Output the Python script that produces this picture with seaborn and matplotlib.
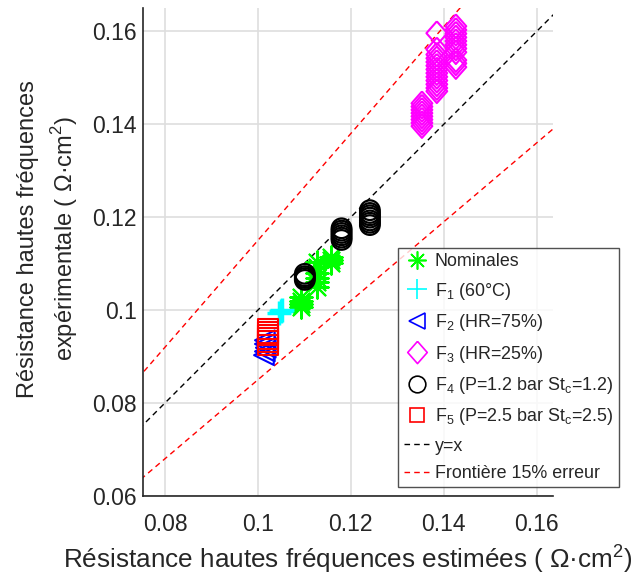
import numpy as np
import matplotlib
matplotlib.use("Agg")
import matplotlib.pyplot as plt
import seaborn as sns
from matplotlib.lines import Line2D

sns.set_style("white")
plt.rcParams['font.family'] = ['Liberation Sans', 'DejaVu Sans']
plt.rcParams['mathtext.fontset'] = 'custom'
plt.rcParams['mathtext.rm'] = 'Liberation Sans'

nom_x = [0.1092, 0.1092, 0.1092, 0.1092, 0.1127, 0.1127, 0.1127, 0.1127, 0.1127, 0.1127,
         0.1157, 0.1157, 0.1157]
nom_y = [0.1006, 0.1013, 0.1020, 0.1028, 0.1050, 0.1060, 0.1070, 0.1080, 0.1092, 0.1103,
         0.1101, 0.1108, 0.1114]
f1_x = [0.1046, 0.1049, 0.1052]
f1_y = [0.0993, 0.0997, 0.1000]
f2_x = [0.1013, 0.1015, 0.1017, 0.1015, 0.1015]
f2_y = [0.0903, 0.0911, 0.0919, 0.0927, 0.0935]
f3_x = [0.1353] * 8 + [0.1385] * 13 + [0.1426] * 11
f3_y = [0.1396, 0.1403, 0.1410, 0.1417, 0.1424, 0.1431, 0.1438, 0.1445,
        0.1471, 0.1478, 0.1486, 0.1494, 0.1502, 0.1510, 0.1518, 0.1526, 0.1534, 0.1542, 0.1550, 0.1561, 0.1596,
        0.1523, 0.1531, 0.1538, 0.1555, 0.1563, 0.1571, 0.1579, 0.1587, 0.1595, 0.1603, 0.1611]
f4_x = [0.1101] * 4 + [0.1180] * 6 + [0.1241] * 7
f4_y = [0.1065, 0.1069, 0.1073, 0.1078,
        0.1151, 0.1156, 0.1161, 0.1166, 0.1171, 0.1176,
        0.1183, 0.1188, 0.1193, 0.1199, 0.1204, 0.1209, 0.1215]
f5_x = [0.1022] * 6
f5_y = [0.0925, 0.0932, 0.0939, 0.0946, 0.0952, 0.0959]

labels = ['Nominales', 'F$_1$ (60°C)', 'F$_2$ (HR=75%)', 'F$_3$ (HR=25%)',
          'F$_4$ (P=1.2 bar St$_\\mathrm{c}$=1.2)', 'F$_5$ (P=2.5 bar St$_\\mathrm{c}$=2.5)',
          'y=x', 'Frontière 15% erreur']
ticks = [0.08, 0.1, 0.12, 0.14, 0.16]
yticks = [0.06, 0.08, 0.1, 0.12, 0.14, 0.16]

fig = plt.figure(figsize=(6.36, 5.78), dpi=100)
ax = fig.add_axes([0.225, 0.142, 0.6445, 0.844])

diamond = [(0, 1), (0.88, 0), (0, -1), (-0.88, 0), (0, 1)]

line_x = np.array([0.07, 0.17])
sns.lineplot(x=line_x, y=line_x, ax=ax, color='k', lw=1, linestyle=(0, (4, 3)), zorder=1)
sns.lineplot(x=line_x, y=1.15 * line_x, ax=ax, color='r', lw=1, linestyle=(0, (4, 3)), zorder=1)
sns.lineplot(x=line_x, y=0.85 * line_x, ax=ax, color='r', lw=1, linestyle=(0, (4, 3)), zorder=1)

sns.scatterplot(x=nom_x, y=nom_y, ax=ax, marker=(8, 2, 0), s=260, color='#00ff00', linewidth=1.5, zorder=3)
sns.scatterplot(x=f1_x, y=f1_y, ax=ax, marker='+', s=300, color='cyan', linewidth=2.5, zorder=3)
sns.scatterplot(x=f2_x, y=f2_y, ax=ax, marker='<', s=200, facecolor='none', edgecolor='b', linewidth=1.5, zorder=3)
sns.scatterplot(x=f3_x, y=f3_y, ax=ax, marker=diamond, s=290, facecolor='none', edgecolor='magenta', linewidth=1.5, zorder=3)
sns.scatterplot(x=f4_x, y=f4_y, ax=ax, marker='o', s=200, facecolor='none', edgecolor='k', linewidth=1.6, zorder=3)
sns.scatterplot(x=f5_x, y=f5_y, ax=ax, marker='s', s=220, facecolor='none', edgecolor='r', linewidth=1.5, zorder=3)

ax.set_xlim(0.0753, 0.1635)
ax.set_ylim(0.06, 0.165)
ax.set_xticks(ticks)
ax.set_xticklabels(['0.08', '0.1', '0.12', '0.14', '0.16'])
ax.set_yticks(yticks)
ax.set_yticklabels(['0.06', '0.08', '0.1', '0.12', '0.14', '0.16'])
ax.grid(True, color='#dedede', lw=1.2)
ax.set_axisbelow(True)
for s in ['top', 'right']:
    ax.spines[s].set_visible(False)
for s in ['left', 'bottom']:
    ax.spines[s].set_color('#262626')
    ax.spines[s].set_linewidth(1.2)
ax.tick_params(direction='in', length=5, width=1, colors='#262626', labelsize=16.5)
ax.tick_params(axis='y', pad=4.5)
ax.tick_params(axis='x', pad=12)

ax.set_xlabel('Résistance hautes fréquences estimées ( Ω·cm$^2$)', fontsize=18.8, color='#262626')
ax.set_ylabel('Résistance hautes fréquences\nexpérimentale ( Ω·cm$^2$)', fontsize=17, color='#262626',
              linespacing=1.4)
ax.xaxis.set_label_coords(0.5, -0.094)
ax.yaxis.set_label_coords(-0.155, 0.527)

handles = [
    Line2D([], [], marker=(8, 2, 0), ms=13, color='#00ff00', ls='none', mew=1.2),
    Line2D([], [], marker='+', ms=15, color='cyan', ls='none', mew=1.2),
    Line2D([], [], marker='<', ms=12, color='b', mfc='none', ls='none', mew=1.2),
    Line2D([], [], marker=diamond, ms=16, color='magenta', mfc='none', ls='none', mew=1.2),
    Line2D([], [], marker='o', ms=12, color='k', mfc='none', ls='none', mew=1.2),
    Line2D([], [], marker='s', ms=10, color='r', mfc='none', ls='none', mew=1.2),
    Line2D([], [], color='k', lw=1, linestyle=(0, (4, 3))),
    Line2D([], [], color='r', lw=1, linestyle=(0, (4, 3))),
]
leg = fig.legend(handles, labels, loc='upper left', bbox_to_anchor=(0.626, 0.571),
                 fontsize=12.9, frameon=True, fancybox=False, edgecolor='#262626',
                 handlelength=1.5, handletextpad=0.25, labelspacing=0.58, borderpad=0.3,
                 borderaxespad=0)
leg.get_frame().set_linewidth(1.0)

fig.savefig('out.png', dpi=100)
